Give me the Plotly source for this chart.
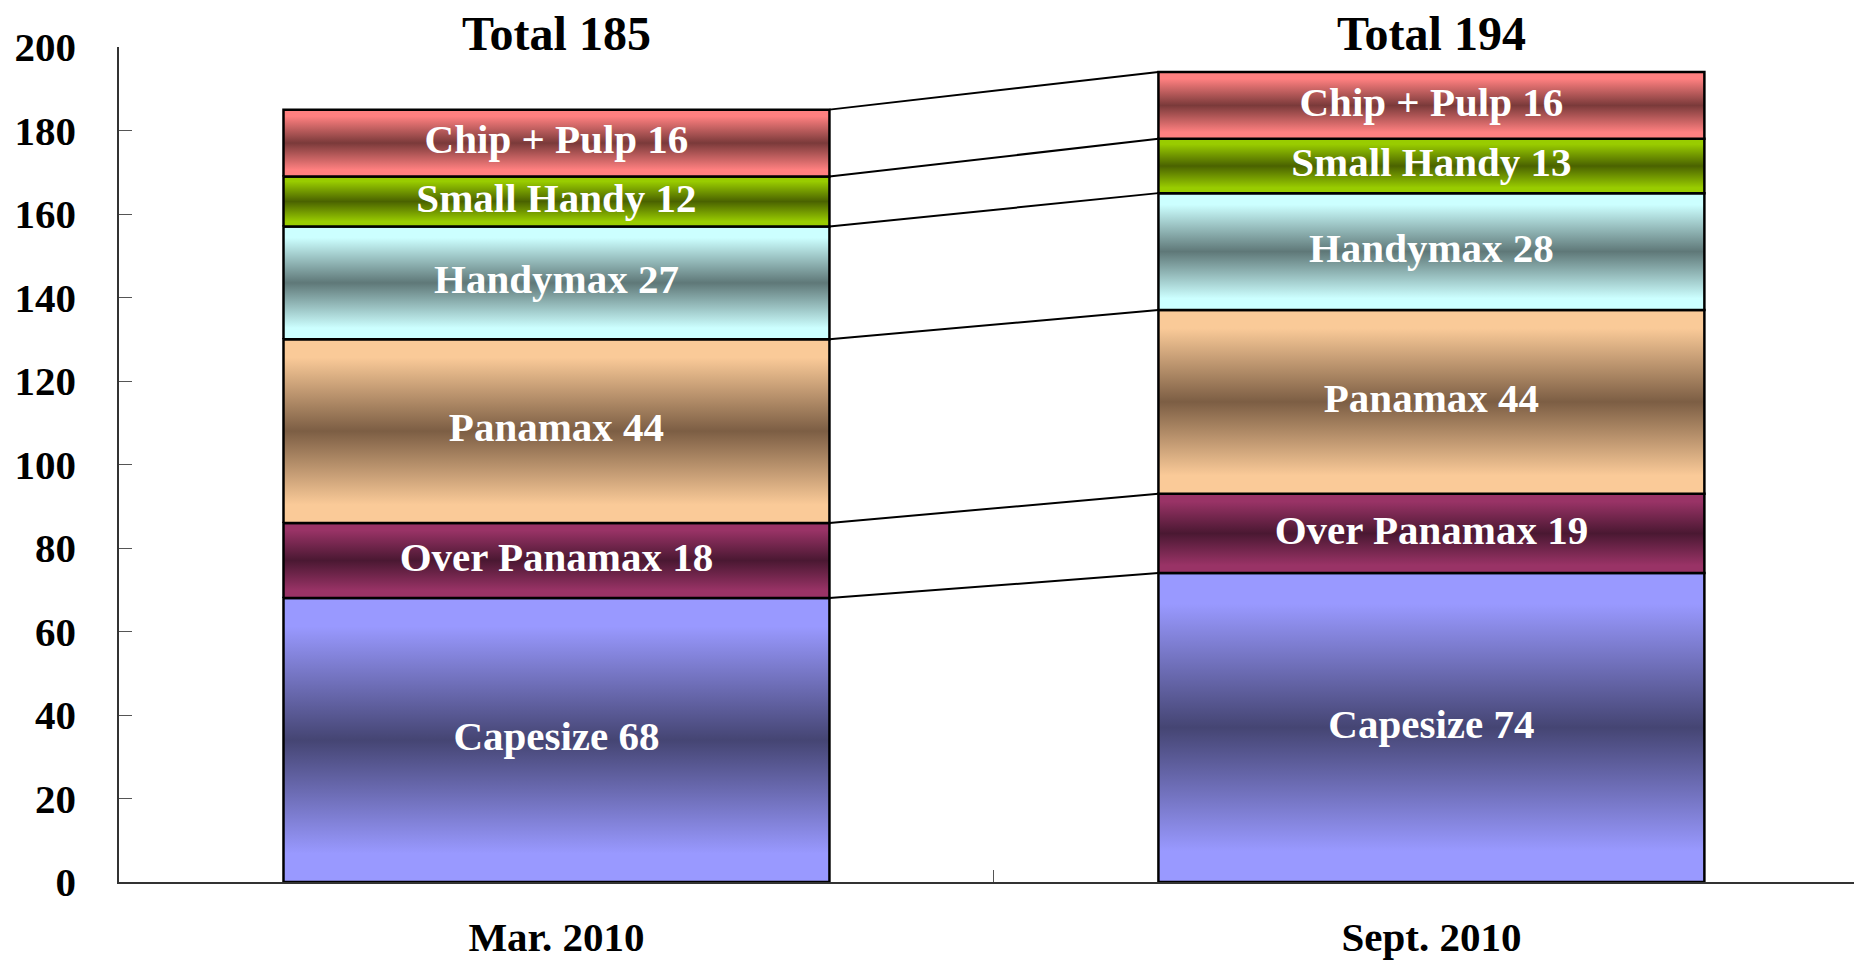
import plotly.graph_objects as go

# ---- data ----
periods = ["Mar. 2010", "Sept. 2010"]
totals = [185, 194]
segments = ["Capesize", "Over Panamax", "Panamax", "Handymax", "Small Handy", "Chip + Pulp"]
mar_2010 = [68, 18, 44, 27, 12, 16]
sept_2010 = [74, 19, 44, 28, 13, 16]
y_ticks = [0, 20, 40, 60, 80, 100, 120, 140, 160, 180, 200]

# ---- styles ----
edge_colors = ["#9999FF", "#993366", "#FACA98", "#CCFFFF", "#99CC00", "#FF8080"]
center_colors = ["#454573", "#4A1832", "#7C5E44", "#5F7878", "#4A6200", "#7A3A3A"]
BAR_W = 0.624
FONT = "Liberation Serif, Times New Roman, serif"

fig = go.Figure()

series = [mar_2010, sept_2010]
cum_tops = []
for i, vals in enumerate(series):
    base = 0
    tops = []
    xl, xr = i - BAR_W / 2, i + BAR_W / 2
    for j, v in enumerate(vals):
        top = base + v
        fig.add_trace(go.Scatter(
            x=[xl, xr, xr, xl, xl], y=[base, base, top, top, base],
            mode="lines", fill="toself",
            fillgradient=dict(type="vertical", colorscale=[
                [0, edge_colors[j]], [0.1, edge_colors[j]],
                [0.5, center_colors[j]],
                [0.9, edge_colors[j]], [1, edge_colors[j]]]),
            line=dict(color="black", width=2.5),
            hoverinfo="skip", showlegend=False))
        tops.append(top)
        base = top
    cum_tops.append(tops)

# connector lines between the two stacks
for k in range(len(segments)):
    fig.add_trace(go.Scatter(
        x=[0 + BAR_W / 2, 1 - BAR_W / 2], y=[cum_tops[0][k], cum_tops[1][k]],
        mode="lines", line=dict(color="black", width=2),
        hoverinfo="skip", showlegend=False))

# segment labels
for i, vals in enumerate(series):
    centers = []
    base = 0
    for v in vals:
        centers.append(base + v / 2)
        base += v
    fig.add_trace(go.Scatter(
        x=[i] * len(vals), y=centers, mode="text",
        text=[f"{s} {v}" for s, v in zip(segments, vals)],
        textfont=dict(family=FONT, size=41, color="white", weight="bold"),
        hoverinfo="skip", showlegend=False))

# totals
for i, t in enumerate(totals):
    fig.add_annotation(x=i, xref="x", y=1, yref="paper", yanchor="middle",
                       yshift=14, text=f"Total {t}", showarrow=False,
                       font=dict(family=FONT, size=48, color="black", weight="bold"))

fig.update_layout(
    width=1854, height=960,
    margin=dict(l=119, r=0, t=47, b=78, autoexpand=False),
    plot_bgcolor="white", paper_bgcolor="white",
    font=dict(family=FONT, color="black", weight="bold"),
)
fig.update_xaxes(
    range=[-0.5, 1.483], tickvals=[0, 1], ticktext=periods,
    ticks="", showline=True, linecolor="#333333", linewidth=1.5,
    showgrid=False, zeroline=False, automargin=False,
    tickfont=dict(family=FONT, size=41, color="black", weight="bold"),
    ticklabelstandoff=18,
    minor=dict(tickvals=[0.5], ticks="inside", ticklen=12, tickcolor="#555555", tickwidth=1),
)
fig.update_yaxes(
    range=[0, 200], tickvals=y_ticks,
    ticks="inside", ticklen=13, tickcolor="#555555", tickwidth=1,
    showline=True, linecolor="#333333", linewidth=1.5,
    showgrid=False, zeroline=False, automargin=False,
    tickfont=dict(family=FONT, size=41, color="black", weight="bold"),
    ticklabelstandoff=33,
)

fig.write_html("out.html", config={"displayModeBar": False},
               post_script="document.body.style.margin='0';")
